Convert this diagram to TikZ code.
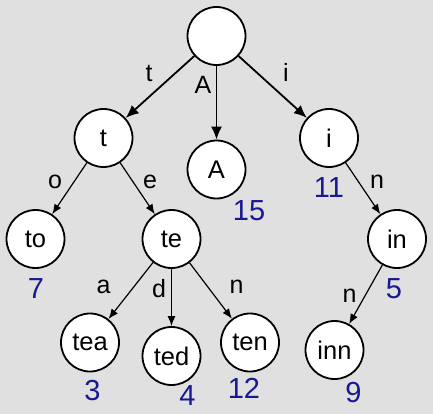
\documentclass[tikz,border=0pt]{standalone}
\usepackage{fontspec}
\setmainfont{Liberation Sans}
\usetikzlibrary{arrows.meta}
\definecolor{bgcol}{RGB}{224,224,224}
\definecolor{numcol}{RGB}{24,24,145}
\tikzset{
  trienode/.style={circle,draw=black,fill=white,line width=1.8pt,minimum size=58pt,inner sep=0pt,font=\fontsize{25.5}{25.5}\selectfont},
  bigedge/.style={line width=1.8pt,-{Latex[length=13pt,width=11pt]}},
  smalledge/.style={line width=1.2pt,-{Latex[length=10pt,width=8pt]}},
  elabel/.style={anchor=base,inner sep=0pt,font=\fontsize{25}{25}\selectfont},
  numlabel/.style={anchor=base,inner sep=0pt,text=numcol,font=\fontsize{29}{29}\selectfont}
}
\begin{document}
\begin{tikzpicture}[x=1pt,y=-1pt]
\fill[bgcol] (0,0) rectangle (433,414);
\useasboundingbox (0,0) rectangle (433,414);
% nodes
\node[trienode] (root) at (216.5,36) {};
\node[trienode] (t) at (103.5,138) {t};
\node[trienode] (A) at (216.5,169.5) {A};
\node[trienode] (i) at (329,138) {i};
\node[trienode] (to) at (35.5,239) {to};
\node[trienode] (te) at (171.5,239) {te};
\node[trienode] (in) at (397,239) {in};
\node[trienode] (tea) at (90,342.5) {tea};
\node[trienode] (ted) at (171.5,356) {ted};
\node[trienode] (ten) at (250,342.5) {ten};
\node[trienode] (inn) at (334.5,350) {inn};
% edges
\draw[bigedge] (root) -- (t);
\draw[bigedge] (root) -- (A);
\draw[bigedge] (root) -- (i);
\draw[smalledge] (t) -- (to);
\draw[smalledge] (t) -- (te);
\draw[smalledge] (i) -- (in);
\draw[smalledge] (te) -- (tea);
\draw[smalledge] (te) -- (ted);
\draw[smalledge] (te) -- (ten);
\draw[smalledge] (in) -- (inn);
% edge labels
\node[elabel] (lt) at (149,82) {t};
\node[elabel] (lA) at (203,94) {A};
\node[elabel] (li) at (286,82) {i};
\node[elabel] (lo) at (55,188) {o};
\node[elabel] (le) at (150,188) {e};
\node[elabel] (ln1) at (377,188) {n};
\node[elabel] (la) at (103.5,293) {a};
\node[elabel] (ld) at (159,297) {d};
\node[elabel] (ln2) at (236.5,293) {n};
\node[elabel] (ln3) at (349.5,302) {n};
% values
\node[numlabel] (v15) at (249,220) {15};
\node[numlabel] (v11) at (329,197) {11};
\node[numlabel] (v7) at (36,298) {7};
\node[numlabel] (v5) at (394,298) {5};
\node[numlabel] (v3) at (92.5,400) {3};
\node[numlabel] (v4) at (187.5,405) {4};
\node[numlabel] (v12) at (244,398) {12};
\node[numlabel] (v9) at (353.5,402) {9};
\end{tikzpicture}
\end{document}
